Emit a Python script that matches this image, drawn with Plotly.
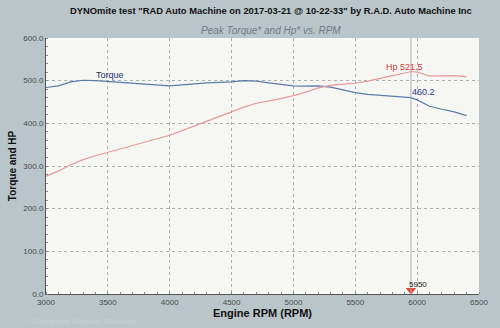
import plotly.graph_objects as go

rpm = [3000, 3100, 3200, 3300, 3400, 3500, 3600, 3700, 3800, 3900, 4000,
       4100, 4200, 4300, 4400, 4500, 4600, 4700, 4800, 4900, 5000,
       5100, 5200, 5300, 5400, 5500, 5600, 5700, 5800, 5900, 5950, 6000,
       6100, 6200, 6300, 6400]
torque = [484, 488, 497, 501, 500, 498, 496, 493, 491, 489, 488,
          490, 493, 495, 496, 497, 500, 499, 495, 491, 488,
          487, 488, 485, 479, 472, 468, 466, 464, 461, 460.2, 455,
          440, 433, 427, 418]
hp = [276, 288, 303, 315, 324, 332, 340, 347, 355, 363, 372,
      383, 394, 405, 416, 426, 438, 447, 452, 458, 465,
      473, 483, 489, 492, 494, 499, 506, 512, 518, 521.5, 520,
      511, 511, 512, 509]

peak_rpm = 5950
peak_hp = 521.5
torque_at_peak = 460.2

x_ticks = [3000, 3500, 4000, 4500, 5000, 5500, 6000, 6500]
y_ticks = [0, 100, 200, 300, 400, 500, 600]

fig = go.Figure()
fig.add_trace(go.Scatter(x=rpm, y=torque, mode="lines", name="Torque",
                         line=dict(color="#5b7aa8", width=1.2), hoverinfo="skip"))
fig.add_trace(go.Scatter(x=rpm, y=hp, mode="lines", name="Hp",
                         line=dict(color="#ea9a98", width=1.2), hoverinfo="skip"))
# peak marker
fig.add_trace(go.Scatter(x=[peak_rpm], y=[9], mode="markers",
                         marker=dict(symbol="triangle-down", size=9, color="#e8452c"),
                         hoverinfo="skip"))

fig.add_shape(type="line", x0=peak_rpm, x1=peak_rpm, y0=0, y1=600,
              line=dict(color="#a4afbd", width=1))

font_main = "Liberation Sans, Arial, sans-serif"
fig.add_annotation(x=3520, y=514, text="Torque", showarrow=False,
                   font=dict(size=9, color="#1f2f6e", family=font_main))
fig.add_annotation(x=5900, y=533, text="Hp 521.5", showarrow=False,
                   font=dict(size=9, color="#d43a3a", family=font_main))
fig.add_annotation(x=6050, y=474, text="460.2", showarrow=False,
                   font=dict(size=9, color="#2a3a86", family=font_main))
fig.add_annotation(x=6010, y=22, text="5950", showarrow=False,
                   font=dict(size=8, color="#222222", family=font_main))

fig.add_annotation(xref="paper", yref="paper", x=0.52, y=1.0, yanchor="middle", yshift=28,
                   text='<b>DYNOmite test "RAD Auto Machine on 2017-03-21 @ 10-22-33" by R.A.D. Auto Machine Inc</b>',
                   showarrow=False, font=dict(size=9.4, color="#111111", family=font_main))
fig.add_annotation(xref="paper", yref="paper", x=0.52, y=1.0, yanchor="middle", yshift=8,
                   text="<i>Peak Torque* and Hp* vs. RPM</i>",
                   showarrow=False, font=dict(size=10, color="#6d7c84", family=font_main))
fig.add_annotation(xref="paper", yref="paper", x=0.0, y=0.0, xshift=-20, yshift=-34,
                   xanchor="left", text="* Correction Method: Standard",
                   showarrow=False, font=dict(size=8, color="#c9d2d6", family=font_main))

fig.update_layout(
    width=500, height=328,
    margin=dict(l=40, r=20, t=38, b=26),
    paper_bgcolor="#bac5c9",
    plot_bgcolor="#f6f7f2",
    showlegend=False,
    font=dict(family=font_main),
)
fig.update_xaxes(range=[3000, 6500], tickvals=x_ticks, ticktext=[str(v) for v in x_ticks],
                 showgrid=True, gridcolor="#a8b0b4", griddash="dot", gridwidth=1,
                 showline=True, linecolor="#555555", linewidth=1, mirror=False,
                 ticks="", tickfont=dict(size=8, color="#4a4a4a"),
                 title=dict(text="<b>Engine RPM (RPM)</b>", font=dict(size=11, color="#111111"),
                            standoff=2),
                 zeroline=False,
                 minor=dict(ticks="inside", ticklen=2, dtick=100, tickcolor="#888888", showgrid=False))
fig.update_yaxes(range=[0, 600], tickvals=y_ticks, ticktext=[f"{v:.1f}" for v in y_ticks],
                 showgrid=True, gridcolor="#a8b0b4", griddash="dot", gridwidth=1,
                 showline=True, linecolor="#555555", linewidth=1,
                 ticks="", tickfont=dict(size=8, color="#4a4a4a"),
                 title=dict(text="<b>Torque and HP</b>", font=dict(size=10, color="#111111"),
                            standoff=4),
                 zeroline=False,
                 minor=dict(ticks="inside", ticklen=2, dtick=20, tickcolor="#888888", showgrid=False))

fig.write_html("out.html")
